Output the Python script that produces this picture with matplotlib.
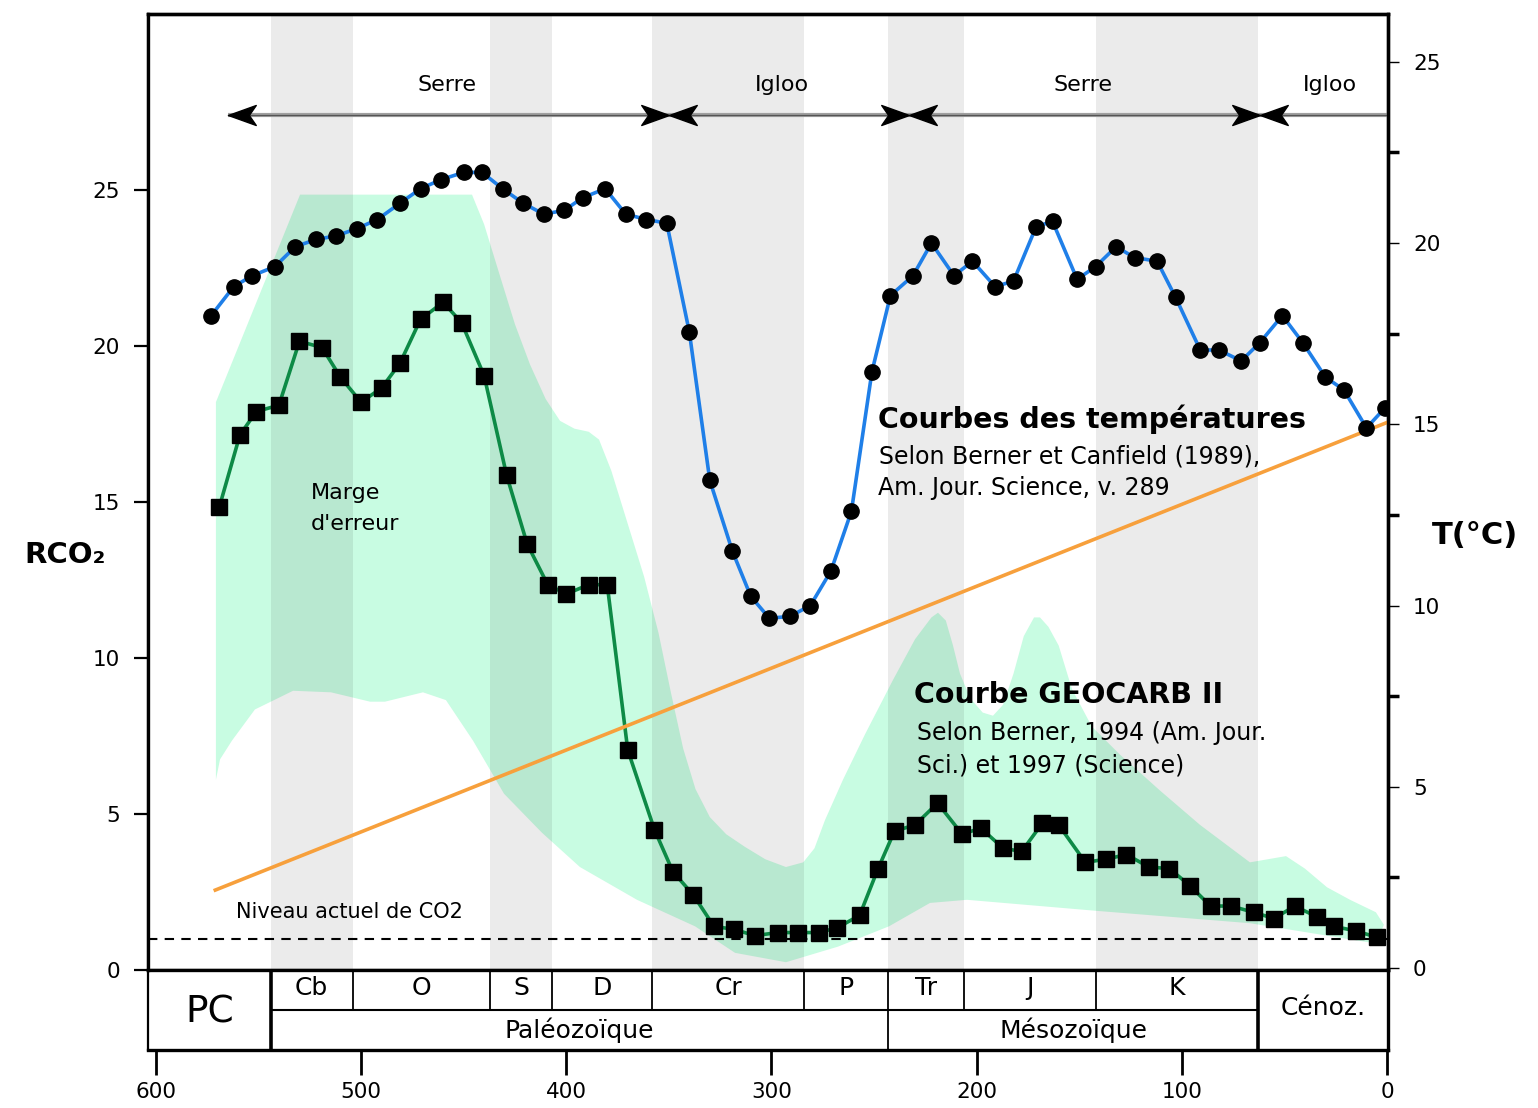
import numpy as np
import matplotlib.pyplot as plt
from matplotlib.path import Path

# --- data (ages in Ma) ---
# temperature curve, Berner & Canfield (1989)
temp_age = [573, 562, 553, 542, 532, 522, 512, 502, 492, 481, 471, 461, 450, 441, 431,
            421, 411, 401, 392, 381, 371, 361, 351, 340, 330, 319, 310, 301, 291, 281,
            271, 261, 251, 242, 231, 222, 211, 202, 191, 182, 171, 163, 151, 142, 132,
            123, 112, 103, 91, 82, 71, 62, 51, 41, 30, 21, 10, 1]
temp_val = [18.0, 18.8, 19.1, 19.35, 19.9, 20.1, 20.2, 20.4, 20.65, 21.1, 21.5, 21.75, 21.95,
            21.95, 21.5, 21.1, 20.8, 20.9, 21.25, 21.5, 20.8, 20.65, 20.55, 17.55, 13.45,
            11.5, 10.25, 9.65, 9.7, 10.0, 10.95, 12.6, 16.45, 18.55, 19.1, 20.0, 19.1, 19.5,
            18.8, 18.95, 20.45, 20.6, 19.0, 19.35, 19.9, 19.6, 19.5, 18.5, 17.05, 17.05,
            16.75, 17.25, 18.0, 17.25, 16.3, 15.95, 14.9, 15.45]

# GEOCARB II RCO2
co2_age = [569, 559, 551, 540, 530, 519, 510, 500, 490, 481, 471, 460, 451, 440, 429,
           419, 409, 400, 389, 380, 370, 357, 348, 338, 328, 318, 308, 297, 287, 277,
           268, 257, 248, 240, 230, 219, 207, 198, 187, 178, 168, 160, 147, 137, 127,
           116, 106, 96, 86, 76, 65, 55, 45, 34, 26, 15, 5]
co2_val = [14.85, 17.15, 17.9, 18.1, 20.15, 19.95, 19.0, 18.2, 18.65, 19.45, 20.85, 21.4,
           20.75, 19.05, 15.85, 13.65, 12.35, 12.05, 12.35, 12.35, 7.05, 4.5, 3.15, 2.4,
           1.4, 1.3, 1.1, 1.2, 1.2, 1.2, 1.35, 1.75, 3.25, 4.45, 4.65, 5.35, 4.35, 4.55,
           3.9, 3.8, 4.7, 4.65, 3.45, 3.55, 3.7, 3.3, 3.25, 2.7, 2.05, 2.05, 1.85, 1.65,
           2.05, 1.7, 1.4, 1.25, 1.05]

# error margin envelope
env_up_age = [570.7, 529.7, 445.9, 440.0, 433.0, 425.0, 417.6, 410.0, 403.0, 396.0, 389.0,
              384.0, 378.0, 370.0, 362.0, 355.0, 349.0, 343.0, 337.0, 330.0, 322.0, 313.0,
              303.0, 292.9, 284.5, 279.0, 273.9, 265.1, 254.4, 240.7, 230.0, 222.0, 218.8,
              215.0, 211.5, 208.1, 203.0, 197.0, 192.0, 187.1, 182.0, 177.0, 172.0, 169.1,
              165.0, 160.0, 153.5, 143.8, 130.1, 110.6, 91.1, 66.8, 58.0, 49.2, 40.0, 29.2,
              18.0, 5.4, 1.5]
env_up_val = [18.2, 24.85, 24.85, 23.9, 22.4, 20.7, 19.4, 18.3, 17.6, 17.35, 17.25, 17.0,
              16.0, 14.3, 12.6, 10.8, 8.9, 7.1, 5.8, 4.9, 4.35, 3.95, 3.55, 3.3, 3.45, 3.9,
              4.8, 6.1, 7.55, 9.3, 10.6, 11.3, 11.45, 11.2, 10.4, 9.5, 8.7, 8.25, 8.15, 8.5,
              9.5, 10.7, 11.3, 11.3, 11.0, 10.4, 9.0, 7.8, 6.9, 5.75, 4.65, 3.45, 3.55, 3.65,
              3.25, 2.65, 2.25, 1.85, 1.45]
env_lo_age = [570.7, 568.7, 562.9, 551.7, 533.1, 514.6, 495.6, 488.3, 469.8, 458.6, 445.4,
              430.3, 411.8, 393.3, 365.5, 337.2, 317.7, 292.9, 267.5, 242.7, 222.7, 204.7,
              142.3, 66.8, 5.4, 1.5]
env_lo_val = [6.1, 6.75, 7.35, 8.35, 8.95, 8.9, 8.6, 8.6, 8.9, 8.65, 7.35, 5.65, 4.4, 3.3,
              2.25, 1.4, 0.55, 0.25, 0.75, 1.4, 2.15, 2.25, 1.9, 1.5, 0.85, 1.45]

# orange trend line (right axis)
trend_age = [571, 0]
trend_val = [2.15, 15.05]

co2_now = 1.0

# periods
bounds = [544, 504, 437, 407, 358, 284, 243, 206, 142, 63]
periods = ["Cb", "O", "S", "D", "Cr", "P", "Tr", "J", "K"]
grey_periods = ["Cb", "S", "Cr", "Tr", "K"]

# greenhouse / icehouse phases
phase_ends = [565, 350, 233, 62, 0]
phase_names = ["Serre", "Igloo", "Serre", "Igloo"]

XMIN, XMAX = 603.8, -0.5

fig = plt.figure(figsize=(15.38, 11.08), dpi=100)
ax = fig.add_axes([148 / 1538, 1 - 970 / 1108, 1240 / 1538, 956 / 1108])
tab = fig.add_axes([148 / 1538, 1 - 1050 / 1108, 1240 / 1538, 80 / 1108])
ax2 = ax.twinx()

ax.set_xlim(XMIN, XMAX)
tab.set_xlim(XMIN, XMAX)
ax.set_ylim(0, 30.64)
ax2.set_ylim(-0.055, 26.32)

# envelope
ax.fill(np.concatenate([env_up_age, env_lo_age[::-1]]),
        np.concatenate([env_up_val, env_lo_val[::-1]]),
        color="#c8fce2", lw=0, zorder=1)

# grey period bands
for i, p in enumerate(periods):
    if p in grey_periods:
        ax.axvspan(bounds[i], bounds[i + 1], color="black", alpha=0.08, lw=0, zorder=2)

# present CO2 level
ax.axhline(co2_now, color="black", lw=1.5, ls=(0, (4.5, 3.5)), zorder=3)
ax.text(561, 1.55, "Niveau actuel de CO2", fontsize=15, ha="left", va="bottom", zorder=6)

# CO2 curve
ax.plot(co2_age, co2_val, color="#0d8a46", lw=2.6, zorder=4)
ax.plot(co2_age, co2_val, "s", color="black", ms=11, zorder=5)

# phase arrows
arr_y = 27.4
ax.plot([phase_ends[0], XMAX], [arr_y, arr_y], color="#a0a0a0", lw=3.0, zorder=3,
        solid_capstyle="butt")
ax.plot([phase_ends[0], XMAX], [arr_y, arr_y], color="#555555", lw=0.9, zorder=3)
left_head = Path([(0, 0), (1, 0.36), (0.75, 0), (1, -0.36), (0, 0)],
                 [Path.MOVETO, Path.LINETO, Path.LINETO, Path.LINETO, Path.CLOSEPOLY])
right_head = Path([(0, 0), (-1, 0.36), (-0.75, 0), (-1, -0.36), (0, 0)],
                  [Path.MOVETO, Path.LINETO, Path.LINETO, Path.LINETO, Path.CLOSEPOLY])
ax.plot(phase_ends[:-1], [arr_y] * 4, ls="none", marker=left_head, ms=40,
        color="black", zorder=4)
ax.plot(phase_ends[1:-1], [arr_y] * 3, ls="none", marker=right_head, ms=40,
        color="black", zorder=4)
label_x = [458, 295, 148, 28]
for x, name in zip(label_x, phase_names):
    ax.text(x, 28.35, name, fontsize=16, ha="center", va="center")

# annotations
ax.text(524.5, 15.3, "Marge", fontsize=16, ha="left", va="center")
ax.text(524.5, 14.3, "d'erreur", fontsize=16, ha="left", va="center")
ax.text(248, 17.65, "Courbes des températures", fontsize=20.5, fontweight="bold",
        ha="left", va="center")
ax.text(247.5, 16.45, "Selon Berner et Canfield (1989),", fontsize=17,
        ha="left", va="center")
ax.text(248, 15.45, "Am. Jour. Science, v. 289", fontsize=17, ha="left", va="center")
ax.text(230.5, 8.8, "Courbe GEOCARB II", fontsize=20.5, fontweight="bold",
        ha="left", va="center")
ax.text(229, 7.6, "Selon Berner, 1994 (Am. Jour.", fontsize=17, ha="left", va="center")
ax.text(229, 6.57, "Sci.) et 1997 (Science)", fontsize=17, ha="left", va="center")

# temperature + trend on right axis
ax2.plot(trend_age, trend_val, color="#f7a03c", lw=2.6, zorder=2)
ax2.plot(temp_age, temp_val, color="#1f7fe8", lw=2.6, zorder=3)
ax2.plot(temp_age, temp_val, "o", color="black", ms=11, zorder=4)

# axes styling
ax.set_xticks([])
ax.set_yticks([0, 5, 10, 15, 20, 25])
ax.tick_params(axis="y", direction="out", length=10, width=1.6, labelsize=15.5, pad=10)
ax2.set_yticks([0, 5, 10, 15, 20, 25])
ax2.set_yticks([2.5, 7.5, 12.5, 17.5, 22.5], minor=True)
ax2.tick_params(axis="y", which="major", direction="out", length=8, width=1.0,
                labelsize=15.5, pad=10)
ax2.tick_params(axis="y", which="minor", direction="out", length=8, width=2.5)
for a in (ax, ax2):
    for s in a.spines.values():
        s.set_linewidth(2.4)
ax.spines["left"].set_linewidth(1.6)

fig.text(0.042, 0.499, "RCO₂", fontsize=21, fontweight="bold", ha="center", va="center")
fig.text(0.959, 0.517, "T(°C)", fontsize=22, fontweight="bold", ha="center", va="center")

# geological time table
tab.set_ylim(0, 1)
tab.set_yticks([])
tab.set_xticks([600, 500, 400, 300, 200, 100, 0])
tab.tick_params(axis="x", direction="out", length=18, width=2, labelsize=15.5, pad=5)
tab.spines["top"].set_visible(False)
tab.spines["bottom"].set_linewidth(2.4)
tab.spines["left"].set_linewidth(1.6)
tab.spines["right"].set_linewidth(2.4)
tab.hlines(0.5, bounds[0], bounds[-1], color="black", lw=1.5)
tab.vlines([bounds[0], bounds[-1]], 0, 1, color="black", lw=2.6)
tab.vlines([bounds[6]], 0, 1, color="black", lw=1.3)
tab.vlines([b for b in bounds[1:-1] if b != bounds[6]], 0.5, 1, color="black", lw=1.3)
for i, p in enumerate(periods):
    tab.text((bounds[i] + bounds[i + 1]) / 2, 0.77, p, fontsize=18, ha="center", va="center")
tab.text((XMIN + bounds[0]) / 2, 0.47, "PC", fontsize=27, ha="center", va="center")
tab.text((bounds[0] + bounds[6]) / 2, 0.25, "Paléozoïque", fontsize=18, ha="center", va="center")
tab.text((bounds[6] + bounds[-1]) / 2, 0.25, "Mésozoïque", fontsize=18, ha="center", va="center")
tab.text((bounds[-1] + XMAX) / 2, 0.52, "Cénoz.", fontsize=18, ha="center", va="center")

fig.savefig("out.png", dpi=100)
